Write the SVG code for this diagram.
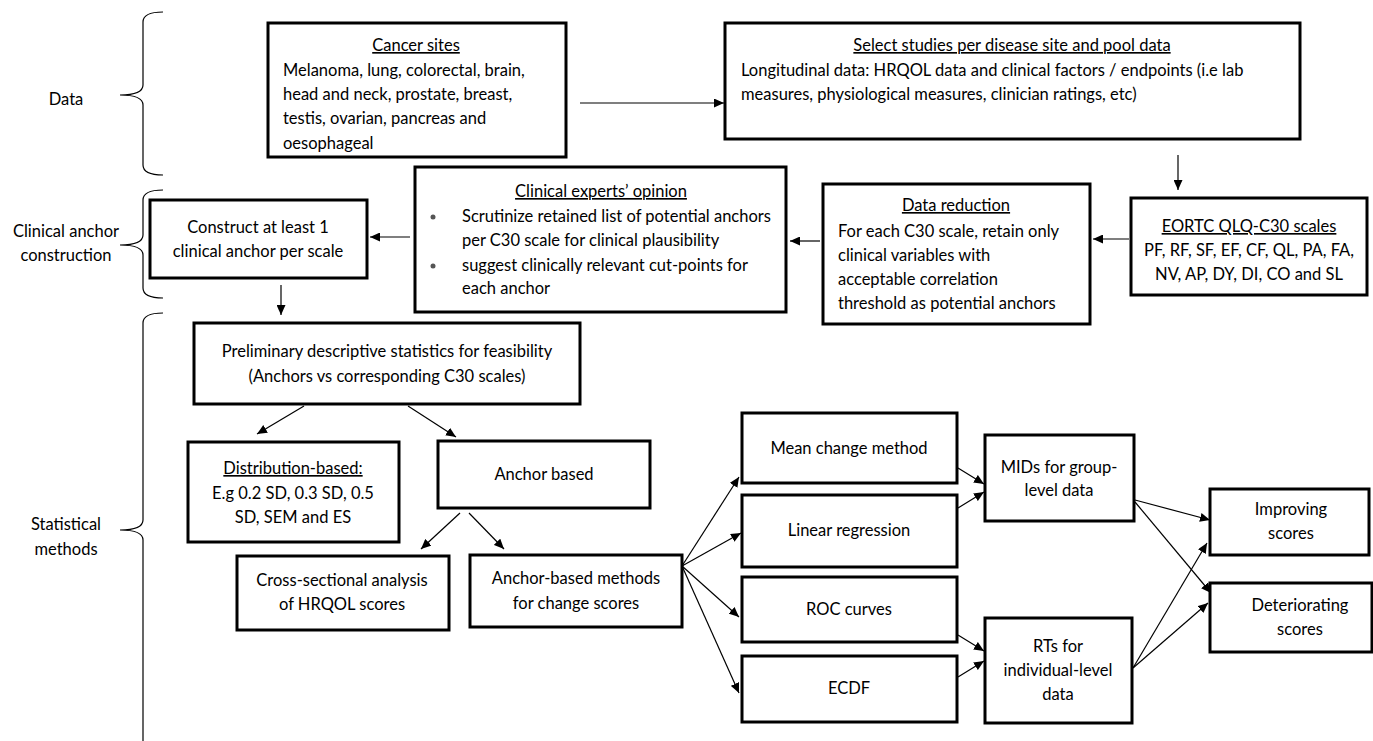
<svg xmlns="http://www.w3.org/2000/svg" width="1373" height="741" viewBox="0 0 1373 741">
<style>
text{font-family:Lato,"Open Sans","Liberation Sans",sans-serif;font-size:16.5px;fill:#000}
.c{text-anchor:middle}
.u{text-decoration:underline}
.box{fill:#fff;stroke:#000;stroke-width:3}
.br{fill:none;stroke:#000;stroke-width:1.2}
.ln{fill:none;stroke:#000;stroke-width:1.2;marker-end:url(#ah)}
</style>
<defs>
<marker id="ah" markerUnits="userSpaceOnUse" markerWidth="11" markerHeight="9" refX="10" refY="4.5" orient="auto">
<path d="M0,0 L10,4.5 L0,9 z" fill="#000"/>
</marker>
</defs>
<rect width="1373" height="741" fill="#fff"/>

<g id="brackets">
<path class="br" d="M163,12 Q143,12 143,22 L143,85 Q143,95 120,95 Q143,95 143,105 L143,165 Q143,175 163,175"/>
<text class="c" x="66" y="105">Data</text>
<path class="br" d="M163,190 Q143,190 143,200 L143,235 Q143,245 120,245 Q143,245 143,255 L143,288 Q143,298 163,298"/>
<text class="c" x="66" y="237">Clinical anchor</text>
<text class="c" x="66" y="261">construction</text>
<path class="br" d="M163,313 Q143,313 143,323 L143,520 Q143,530 120,530 Q143,530 143,540 L143,745"/>
<text class="c" x="66" y="530">Statistical</text>
<text class="c" x="66" y="555">methods</text>
</g>

<g id="connectors">
<line class="ln" x1="580" y1="103" x2="724" y2="103"/>
<line class="ln" x1="1178" y1="155" x2="1178" y2="190"/>
<line class="ln" x1="1129" y1="239" x2="1093" y2="239"/>
<line class="ln" x1="820" y1="241" x2="790" y2="241"/>
<line class="ln" x1="410" y1="237" x2="370" y2="237"/>
<line class="ln" x1="281" y1="285" x2="281" y2="315"/>
<line class="ln" x1="304" y1="406" x2="257" y2="434"/>
<line class="ln" x1="408" y1="406" x2="456" y2="437"/>
<line class="ln" x1="460" y1="513" x2="421" y2="549"/>
<line class="ln" x1="469" y1="513" x2="504" y2="549"/>
<line class="ln" x1="682" y1="566" x2="739" y2="477"/>
<line class="ln" x1="682" y1="566" x2="741" y2="533"/>
<line class="ln" x1="682" y1="566" x2="739" y2="617"/>
<line class="ln" x1="682" y1="566" x2="739" y2="693"/>
<line class="ln" x1="958" y1="468" x2="984" y2="484"/>
<line class="ln" x1="958" y1="508" x2="984" y2="492"/>
<line class="ln" x1="958" y1="635" x2="984" y2="651"/>
<line class="ln" x1="958" y1="677" x2="984" y2="661"/>
<line class="ln" x1="1135" y1="500" x2="1210" y2="520"/>
<line class="ln" x1="1135" y1="502" x2="1211" y2="593"/>
<line class="ln" x1="1133" y1="668" x2="1207" y2="543"/>
<line class="ln" x1="1133" y1="668" x2="1208" y2="603"/>
</g>

<g id="cancer-sites">
<rect class="box" x="268" y="23" width="298" height="134"/>
<text class="c u" x="416" y="51">Cancer sites</text>
<text x="283" y="76">Melanoma, lung, colorectal, brain,</text>
<text x="283" y="100">head and neck, prostate, breast,</text>
<text x="283" y="124">testis, ovarian, pancreas and</text>
<text x="283" y="149">oesophageal</text>
</g>

<g id="select-studies">
<rect class="box" x="725" y="23" width="575" height="116"/>
<text class="c u" x="1012" y="51">Select studies per disease site and pool data</text>
<text x="741" y="76">Longitudinal data: HRQOL data and clinical factors / endpoints (i.e lab</text>
<text x="741" y="100">measures, physiological measures, clinician ratings, etc)</text>
</g>

<g id="eortc">
<rect class="box" x="1131" y="198" width="236" height="97"/>
<text class="c u" x="1249" y="232">EORTC QLQ-C30 scales</text>
<text class="c" x="1249" y="256">PF, RF, SF, EF, CF, QL, PA, FA,</text>
<text class="c" x="1249" y="280">NV, AP, DY, DI, CO and SL</text>
</g>

<g id="data-reduction">
<rect class="box" x="823" y="184" width="267" height="140"/>
<text class="c u" x="956" y="211">Data reduction</text>
<text x="838" y="237">For each C30 scale, retain only</text>
<text x="838" y="261">clinical variables with</text>
<text x="838" y="285">acceptable correlation</text>
<text x="838" y="309">threshold as potential anchors</text>
</g>

<g id="clinical-experts">
<rect class="box" x="415" y="167" width="371" height="145"/>
<text class="c u" x="601" y="197">Clinical experts’ opinion</text>
<circle cx="433" cy="217" r="2.5" fill="#555"/>
<text x="462" y="222">Scrutinize retained list of potential anchors</text>
<text x="462" y="246">per C30 scale for clinical plausibility</text>
<circle cx="433" cy="266" r="2.5" fill="#555"/>
<text x="462" y="271">suggest clinically relevant cut-points for</text>
<text x="462" y="294">each anchor</text>
</g>

<g id="construct">
<rect class="box" x="150" y="200" width="217" height="78"/>
<text class="c" x="258" y="233">Construct at least 1</text>
<text class="c" x="258" y="257">clinical anchor per scale</text>
</g>

<g id="preliminary">
<rect class="box" x="194" y="323" width="386" height="81"/>
<text class="c" x="387" y="357">Preliminary descriptive statistics for feasibility</text>
<text class="c" x="387" y="382">(Anchors vs corresponding C30 scales)</text>
</g>

<g id="distribution">
<rect class="box" x="188" y="442" width="211" height="100"/>
<text class="c u" x="293" y="474">Distribution-based:</text>
<text class="c" x="293" y="499">E.g 0.2 SD, 0.3 SD, 0.5</text>
<text class="c" x="293" y="523">SD, SEM and ES</text>
</g>

<g id="anchor-based">
<rect class="box" x="438" y="441" width="212" height="67"/>
<text class="c" x="544" y="480">Anchor based</text>
</g>

<g id="cross-sectional">
<rect class="box" x="237" y="556" width="212" height="74"/>
<text class="c" x="342" y="586">Cross-sectional analysis</text>
<text class="c" x="342" y="610">of HRQOL scores</text>
</g>

<g id="anchor-based-methods">
<rect class="box" x="470" y="555" width="212" height="72"/>
<text class="c" x="576" y="584">Anchor-based methods</text>
<text class="c" x="576" y="609">for change scores</text>
</g>

<g id="mean-change">
<rect class="box" x="742" y="413" width="215" height="70"/>
<text class="c" x="849" y="454">Mean change method</text>
</g>

<g id="linear-regression">
<rect class="box" x="742" y="495" width="215" height="72"/>
<text class="c" x="849" y="536">Linear regression</text>
</g>

<g id="roc">
<rect class="box" x="742" y="577" width="215" height="65"/>
<text class="c" x="849" y="615">ROC curves</text>
</g>

<g id="ecdf">
<rect class="box" x="742" y="656" width="215" height="66"/>
<text class="c" x="849" y="694">ECDF</text>
</g>

<g id="mids">
<rect class="box" x="985" y="435" width="149" height="86"/>
<text class="c" x="1059" y="473">MIDs for group-</text>
<text class="c" x="1059" y="496">level data</text>
</g>

<g id="rts">
<rect class="box" x="985" y="618" width="147" height="105"/>
<text class="c" x="1058" y="652">RTs for</text>
<text class="c" x="1058" y="676">individual-level</text>
<text class="c" x="1058" y="700">data</text>
</g>

<g id="improving">
<rect class="box" x="1210" y="489" width="159" height="66"/>
<text class="c" x="1291" y="515">Improving</text>
<text class="c" x="1291" y="539">scores</text>
</g>

<g id="deteriorating">
<rect class="box" x="1210" y="583" width="162" height="69"/>
<text class="c" x="1300" y="611">Deteriorating</text>
<text class="c" x="1300" y="635">scores</text>
</g>
</svg>
